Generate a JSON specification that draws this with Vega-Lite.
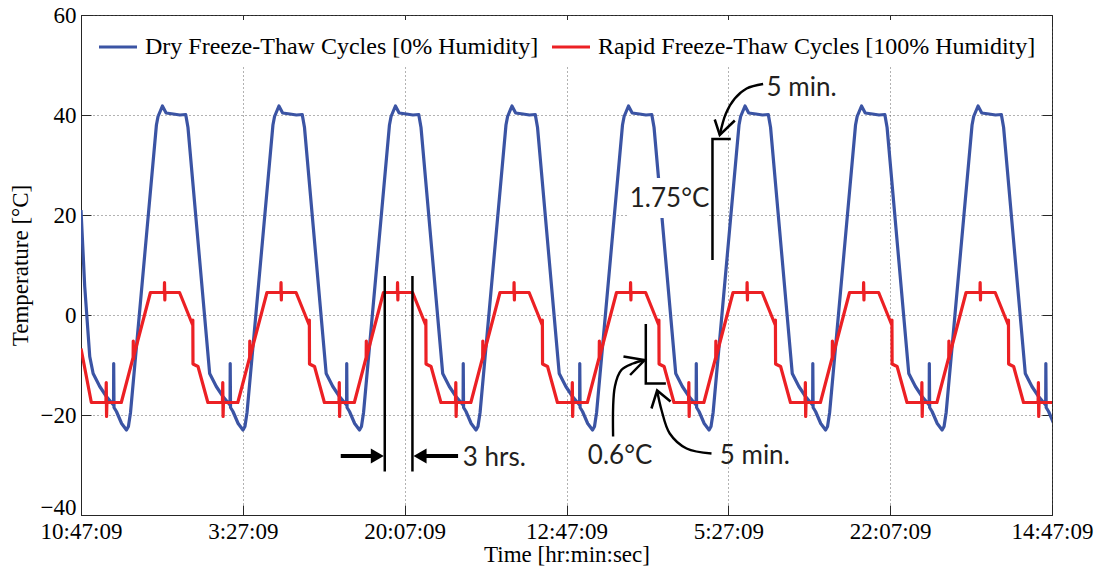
{
"$schema": "https://vega.github.io/schema/vega-lite/v6.json",
"width": 971, "height": 500,
"autosize": {"type": "none"},
"padding": {"left": 81, "top": 15, "right": 47, "bottom": 54},
"background": "white",
"config": {
  "view": {"stroke": "#262626", "strokeWidth": 1},
  "font": "Liberation Serif",
  "axis": {"domainColor": "#262626", "tickColor": "#262626", "labelColor": "#000", "titleColor": "#000", "labelFont": "Liberation Serif", "titleFont": "Liberation Serif", "labelFontSize": 23, "titleFontSize": 23, "titleFontWeight": "normal", "gridColor": "#555", "gridDash": [1, 3], "gridOpacity": 0.9, "gridWidth": 1, "tickSize": -10, "labelFlush": false, "labelOverlap": false}
},
"resolve": {"axis": {"x": "independent", "y": "independent"}},
"layer": [
{
 "data": {"values": [
{"s":"d","t":0,"T":21},{"s":"d","t":23,"T":5.7},{"s":"d","t":54,"T":-8.3},{"s":"d","t":75,"T":-11.7},{"s":"d","t":116,"T":-14.3},{"s":"d","t":157,"T":-16.3},{"s":"d","t":201,"T":-18},{"s":"d","t":202,"T":-9.7},{"s":"d","t":204,"T":-18.5},{"s":"d","t":219,"T":-19.3},{"s":"d","t":251,"T":-21.7},
{"s":"d","t":281,"T":-23},{"s":"d","t":293,"T":-22.3},{"s":"d","t":306,"T":-19.5},{"s":"d","t":466,"T":38},{"s":"d","t":476,"T":39.7},{"s":"d","t":503,"T":41.8},{"s":"d","t":526,"T":40.4},{"s":"d","t":571,"T":40.2},{"s":"d","t":611,"T":40},{"s":"d","t":647,"T":40.1},{"s":"d","t":661,"T":37.5},{"s":"d","t":795,"T":-11.7},{"s":"d","t":836,"T":-14.3},{"s":"d","t":877,"T":-16.3},{"s":"d","t":921,"T":-18},{"s":"d","t":922,"T":-9.7},{"s":"d","t":924,"T":-18.5},{"s":"d","t":939,"T":-19.3},{"s":"d","t":971,"T":-21.7},
{"s":"d","t":1001,"T":-23},{"s":"d","t":1013,"T":-22.3},{"s":"d","t":1026,"T":-19.5},{"s":"d","t":1186,"T":38},{"s":"d","t":1196,"T":39.7},{"s":"d","t":1223,"T":41.8},{"s":"d","t":1246,"T":40.4},{"s":"d","t":1291,"T":40.2},{"s":"d","t":1331,"T":40},{"s":"d","t":1367,"T":40.1},{"s":"d","t":1381,"T":37.5},{"s":"d","t":1515,"T":-11.7},{"s":"d","t":1556,"T":-14.3},{"s":"d","t":1597,"T":-16.3},{"s":"d","t":1641,"T":-18},{"s":"d","t":1642,"T":-9.7},{"s":"d","t":1644,"T":-18.5},{"s":"d","t":1659,"T":-19.3},{"s":"d","t":1691,"T":-21.7},
{"s":"d","t":1721,"T":-23},{"s":"d","t":1733,"T":-22.3},{"s":"d","t":1746,"T":-19.5},{"s":"d","t":1906,"T":38},{"s":"d","t":1916,"T":39.7},{"s":"d","t":1943,"T":41.8},{"s":"d","t":1966,"T":40.4},{"s":"d","t":2011,"T":40.2},{"s":"d","t":2051,"T":40},{"s":"d","t":2087,"T":40.1},{"s":"d","t":2101,"T":37.5},{"s":"d","t":2235,"T":-11.7},{"s":"d","t":2276,"T":-14.3},{"s":"d","t":2317,"T":-16.3},{"s":"d","t":2361,"T":-18},{"s":"d","t":2362,"T":-9.7},{"s":"d","t":2364,"T":-18.5},{"s":"d","t":2379,"T":-19.3},{"s":"d","t":2411,"T":-21.7},
{"s":"d","t":2441,"T":-23},{"s":"d","t":2453,"T":-22.3},{"s":"d","t":2466,"T":-19.5},{"s":"d","t":2626,"T":38},{"s":"d","t":2636,"T":39.7},{"s":"d","t":2663,"T":41.8},{"s":"d","t":2686,"T":40.4},{"s":"d","t":2731,"T":40.2},{"s":"d","t":2771,"T":40},{"s":"d","t":2807,"T":40.1},{"s":"d","t":2821,"T":37.5},{"s":"d","t":2955,"T":-11.7},{"s":"d","t":2996,"T":-14.3},{"s":"d","t":3037,"T":-16.3},{"s":"d","t":3081,"T":-18},{"s":"d","t":3082,"T":-9.7},{"s":"d","t":3084,"T":-18.5},{"s":"d","t":3099,"T":-19.3},{"s":"d","t":3131,"T":-21.7},
{"s":"d","t":3161,"T":-23},{"s":"d","t":3173,"T":-22.3},{"s":"d","t":3186,"T":-19.5},{"s":"d","t":3346,"T":38},{"s":"d","t":3356,"T":39.7},{"s":"d","t":3383,"T":41.8},{"s":"d","t":3406,"T":40.4},{"s":"d","t":3451,"T":40.2},{"s":"d","t":3491,"T":40},{"s":"d","t":3527,"T":40.1},{"s":"d","t":3541,"T":37.5},{"s":"d","t":3675,"T":-11.7},{"s":"d","t":3716,"T":-14.3},{"s":"d","t":3757,"T":-16.3},{"s":"d","t":3801,"T":-18},{"s":"d","t":3802,"T":-9.7},{"s":"d","t":3804,"T":-18.5},{"s":"d","t":3819,"T":-19.3},{"s":"d","t":3851,"T":-21.7},
{"s":"d","t":3881,"T":-23},{"s":"d","t":3893,"T":-22.3},{"s":"d","t":3906,"T":-19.5},{"s":"d","t":4066,"T":38},{"s":"d","t":4076,"T":39.7},{"s":"d","t":4103,"T":41.8},{"s":"d","t":4126,"T":40.4},{"s":"d","t":4171,"T":40.2},{"s":"d","t":4211,"T":40},{"s":"d","t":4247,"T":40.1},{"s":"d","t":4261,"T":37.5},{"s":"d","t":4395,"T":-11.7},{"s":"d","t":4436,"T":-14.3},{"s":"d","t":4477,"T":-16.3},{"s":"d","t":4521,"T":-18},{"s":"d","t":4522,"T":-9.7},{"s":"d","t":4524,"T":-18.5},{"s":"d","t":4539,"T":-19.3},{"s":"d","t":4571,"T":-21.7},
{"s":"d","t":4601,"T":-23},{"s":"d","t":4613,"T":-22.3},{"s":"d","t":4626,"T":-19.5},{"s":"d","t":4786,"T":38},{"s":"d","t":4796,"T":39.7},{"s":"d","t":4823,"T":41.8},{"s":"d","t":4846,"T":40.4},{"s":"d","t":4891,"T":40.2},{"s":"d","t":4931,"T":40},{"s":"d","t":4967,"T":40.1},{"s":"d","t":4981,"T":37.5},{"s":"d","t":5115,"T":-11.7},{"s":"d","t":5156,"T":-14.3},{"s":"d","t":5197,"T":-16.3},{"s":"d","t":5241,"T":-18},{"s":"d","t":5242,"T":-9.7},{"s":"d","t":5244,"T":-18.5},{"s":"d","t":5259,"T":-19.3},{"s":"d","t":5291,"T":-21.7},
{"s":"d","t":5321,"T":-23},{"s":"d","t":5333,"T":-22.3},{"s":"d","t":5346,"T":-19.5},{"s":"d","t":5506,"T":38},{"s":"d","t":5516,"T":39.7},{"s":"d","t":5543,"T":41.8},{"s":"d","t":5566,"T":40.4},{"s":"d","t":5611,"T":40.2},{"s":"d","t":5651,"T":40},{"s":"d","t":5687,"T":40.1},{"s":"d","t":5701,"T":37.5},{"s":"d","t":5835,"T":-11.7},{"s":"d","t":5876,"T":-14.3},{"s":"d","t":5917,"T":-16.3},{"s":"d","t":5961,"T":-18},{"s":"d","t":5962,"T":-9.7},{"s":"d","t":5964,"T":-18.5},{"s":"d","t":5979,"T":-19.3},{"s":"d","t":6011,"T":-21.7},
{"s":"r","t":0,"T":-6.7},
{"s":"r","t":64,"T":-17.5},{"s":"r","t":154,"T":-17.5},{"s":"r","t":156,"T":-13.5},{"s":"r","t":158,"T":-20.3},{"s":"r","t":160,"T":-17.5},{"s":"r","t":249,"T":-17.5},{"s":"r","t":322,"T":-8.5},{"s":"r","t":323,"T":-5.2},{"s":"r","t":325,"T":-8.8},{"s":"r","t":326,"T":-8.2},{"s":"r","t":429,"T":4.5},{"s":"r","t":515,"T":4.5},{"s":"r","t":516,"T":6.5},{"s":"r","t":518,"T":3},{"s":"r","t":519,"T":4.5},{"s":"r","t":609,"T":4.5},{"s":"r","t":690,"T":-2},{"s":"r","t":691,"T":-1},{"s":"r","t":692,"T":-9.8},{"s":"r","t":723,"T":-10.3},
{"s":"r","t":784,"T":-17.5},{"s":"r","t":874,"T":-17.5},{"s":"r","t":876,"T":-13.5},{"s":"r","t":878,"T":-20.3},{"s":"r","t":880,"T":-17.5},{"s":"r","t":969,"T":-17.5},{"s":"r","t":1042,"T":-8.5},{"s":"r","t":1043,"T":-5.2},{"s":"r","t":1045,"T":-8.8},{"s":"r","t":1046,"T":-8.2},{"s":"r","t":1149,"T":4.5},{"s":"r","t":1235,"T":4.5},{"s":"r","t":1236,"T":6.5},{"s":"r","t":1238,"T":3},{"s":"r","t":1239,"T":4.5},{"s":"r","t":1329,"T":4.5},{"s":"r","t":1410,"T":-2},{"s":"r","t":1411,"T":-1},{"s":"r","t":1412,"T":-9.8},{"s":"r","t":1443,"T":-10.3},
{"s":"r","t":1504,"T":-17.5},{"s":"r","t":1594,"T":-17.5},{"s":"r","t":1596,"T":-13.5},{"s":"r","t":1598,"T":-20.3},{"s":"r","t":1600,"T":-17.5},{"s":"r","t":1689,"T":-17.5},{"s":"r","t":1762,"T":-8.5},{"s":"r","t":1763,"T":-5.2},{"s":"r","t":1765,"T":-8.8},{"s":"r","t":1766,"T":-8.2},{"s":"r","t":1869,"T":4.5},{"s":"r","t":1955,"T":4.5},{"s":"r","t":1956,"T":6.5},{"s":"r","t":1958,"T":3},{"s":"r","t":1959,"T":4.5},{"s":"r","t":2049,"T":4.5},{"s":"r","t":2130,"T":-2},{"s":"r","t":2131,"T":-1},{"s":"r","t":2132,"T":-9.8},{"s":"r","t":2163,"T":-10.3},
{"s":"r","t":2224,"T":-17.5},{"s":"r","t":2314,"T":-17.5},{"s":"r","t":2316,"T":-13.5},{"s":"r","t":2318,"T":-20.3},{"s":"r","t":2320,"T":-17.5},{"s":"r","t":2409,"T":-17.5},{"s":"r","t":2482,"T":-8.5},{"s":"r","t":2483,"T":-5.2},{"s":"r","t":2485,"T":-8.8},{"s":"r","t":2486,"T":-8.2},{"s":"r","t":2589,"T":4.5},{"s":"r","t":2675,"T":4.5},{"s":"r","t":2676,"T":6.5},{"s":"r","t":2678,"T":3},{"s":"r","t":2679,"T":4.5},{"s":"r","t":2769,"T":4.5},{"s":"r","t":2850,"T":-2},{"s":"r","t":2851,"T":-1},{"s":"r","t":2852,"T":-9.8},{"s":"r","t":2883,"T":-10.3},
{"s":"r","t":2944,"T":-17.5},{"s":"r","t":3034,"T":-17.5},{"s":"r","t":3036,"T":-13.5},{"s":"r","t":3038,"T":-20.3},{"s":"r","t":3040,"T":-17.5},{"s":"r","t":3129,"T":-17.5},{"s":"r","t":3202,"T":-8.5},{"s":"r","t":3203,"T":-5.2},{"s":"r","t":3205,"T":-8.8},{"s":"r","t":3206,"T":-8.2},{"s":"r","t":3309,"T":4.5},{"s":"r","t":3395,"T":4.5},{"s":"r","t":3396,"T":6.5},{"s":"r","t":3398,"T":3},{"s":"r","t":3399,"T":4.5},{"s":"r","t":3489,"T":4.5},{"s":"r","t":3570,"T":-2},{"s":"r","t":3571,"T":-1},{"s":"r","t":3572,"T":-9.8},{"s":"r","t":3603,"T":-10.3},
{"s":"r","t":3664,"T":-17.5},{"s":"r","t":3754,"T":-17.5},{"s":"r","t":3756,"T":-13.5},{"s":"r","t":3758,"T":-20.3},{"s":"r","t":3760,"T":-17.5},{"s":"r","t":3849,"T":-17.5},{"s":"r","t":3922,"T":-8.5},{"s":"r","t":3923,"T":-5.2},{"s":"r","t":3925,"T":-8.8},{"s":"r","t":3926,"T":-8.2},{"s":"r","t":4029,"T":4.5},{"s":"r","t":4115,"T":4.5},{"s":"r","t":4116,"T":6.5},{"s":"r","t":4118,"T":3},{"s":"r","t":4119,"T":4.5},{"s":"r","t":4209,"T":4.5},{"s":"r","t":4290,"T":-2},{"s":"r","t":4291,"T":-1},{"s":"r","t":4292,"T":-9.8},{"s":"r","t":4323,"T":-10.3},
{"s":"r","t":4384,"T":-17.5},{"s":"r","t":4474,"T":-17.5},{"s":"r","t":4476,"T":-13.5},{"s":"r","t":4478,"T":-20.3},{"s":"r","t":4480,"T":-17.5},{"s":"r","t":4569,"T":-17.5},{"s":"r","t":4642,"T":-8.5},{"s":"r","t":4643,"T":-5.2},{"s":"r","t":4645,"T":-8.8},{"s":"r","t":4646,"T":-8.2},{"s":"r","t":4749,"T":4.5},{"s":"r","t":4835,"T":4.5},{"s":"r","t":4836,"T":6.5},{"s":"r","t":4838,"T":3},{"s":"r","t":4839,"T":4.5},{"s":"r","t":4929,"T":4.5},{"s":"r","t":5010,"T":-2},{"s":"r","t":5011,"T":-1},{"s":"r","t":5012,"T":-9.8},{"s":"r","t":5043,"T":-10.3},
{"s":"r","t":5104,"T":-17.5},{"s":"r","t":5194,"T":-17.5},{"s":"r","t":5196,"T":-13.5},{"s":"r","t":5198,"T":-20.3},{"s":"r","t":5200,"T":-17.5},{"s":"r","t":5289,"T":-17.5},{"s":"r","t":5362,"T":-8.5},{"s":"r","t":5363,"T":-5.2},{"s":"r","t":5365,"T":-8.8},{"s":"r","t":5366,"T":-8.2},{"s":"r","t":5469,"T":4.5},{"s":"r","t":5555,"T":4.5},{"s":"r","t":5556,"T":6.5},{"s":"r","t":5558,"T":3},{"s":"r","t":5559,"T":4.5},{"s":"r","t":5649,"T":4.5},{"s":"r","t":5730,"T":-2},{"s":"r","t":5731,"T":-1},{"s":"r","t":5732,"T":-9.8},{"s":"r","t":5763,"T":-10.3},
{"s":"r","t":5824,"T":-17.5},{"s":"r","t":5914,"T":-17.5},{"s":"r","t":5916,"T":-13.5},{"s":"r","t":5918,"T":-20.3},{"s":"r","t":5920,"T":-17.5},{"s":"r","t":6010,"T":-17.5}
 ]},
 "mark": {"type": "line", "strokeWidth": 3.2, "clip": true, "strokeJoin": "round"},
 "encoding": {
   "x": {"field": "t", "type": "quantitative", "scale": {"domain": [0, 6000], "nice": false, "zero": false},
     "axis": {"values": [0, 1000, 2000, 3000, 4000, 5000, 6000], "labelExpr": "['10:47:09','3:27:09','20:07:09','12:47:09','5:27:09','22:07:09','14:47:09'][round(datum.value/1000)]", "title": "Time [hr:min:sec]", "labelPadding": 15, "titlePadding": 0, "grid": true}},
   "y": {"field": "T", "type": "quantitative", "scale": {"domain": [-40, 60], "nice": false, "zero": false},
     "axis": {"values": [-40, -20, 0, 20, 40, 60], "title": "Temperature [°C]", "grid": true, "labelPadding": 15, "titlePadding": 8,
       "labelOffset": {"condition": {"test": "datum.value == -40", "value": -8}, "value": 0}}},
   "color": {"field": "s", "type": "nominal", "scale": {"domain": ["d", "r"], "range": ["#3B54A4", "#EC2024"]},
     "legend": {"orient": "none", "legendX": 10, "legendY": 5, "direction": "horizontal", "title": null,
       "labelExpr": "datum.label == 'd' ? 'Dry Freeze-Thaw Cycles [0% Humidity]' : 'Rapid Freeze-Thaw Cycles [100% Humidity]'",
       "labelFont": "Liberation Serif", "labelFontSize": 24, "labelColor": "#000", "labelLimit": 800,
       "symbolType": "stroke", "symbolStrokeWidth": 3.2, "symbolSize": 1444, "fillColor": "white", "padding": 6, "columnPadding": 6, "labelOffset": 6}}
 }
},
{
 "data": {"values": [{"t1": 3379, "t2": 3880, "T1": 19.4, "T2": 27.4}]},
 "mark": {"type": "rect", "color": "white"},
 "encoding": {
   "x": {"field": "t1", "type": "quantitative", "scale": {"domain": [0, 6000], "nice": false, "zero": false},
     "axis": {"orient": "top", "labels": false, "title": null, "grid": false, "domain": false, "values": [0, 1000, 2000, 3000, 4000, 5000, 6000]}},
   "x2": {"field": "t2"},
   "y": {"field": "T1", "type": "quantitative", "scale": {"domain": [-40, 60], "nice": false, "zero": false},
     "axis": {"orient": "right", "labels": false, "title": null, "grid": false, "domain": false, "values": [-40, -20, 0, 20, 40, 60]}},
   "y2": {"field": "T2"}
 }
},
{
 "data": {"values": [
  {"g":"b1","o":0,"t":4015,"T":35.2},{"g":"b1","o":1,"t":3902,"T":35.2},{"g":"b1","o":2,"t":3902,"T":11},
  {"g":"b2","o":0,"t":3490,"T":-1.8},{"g":"b2","o":1,"t":3490,"T":-13.7},{"g":"b2","o":2,"t":3614,"T":-13.7},
  {"g":"v1","o":0,"t":1877,"T":7.8},{"g":"v1","o":1,"t":1877,"T":-31.3},
  {"g":"v2","o":0,"t":2048,"T":7.8},{"g":"v2","o":1,"t":2048,"T":-31.3},
  {"g":"h1","o":0,"t":3916,"T":39.1},{"g":"h1","o":1,"t":3947,"T":36},{"g":"h1","o":2,"t":4040,"T":38.9},
  {"g":"h2","o":0,"t":3352,"T":-8.3},{"g":"h2","o":1,"t":3483,"T":-9},{"g":"h2","o":2,"t":3393,"T":-12},
  {"g":"h3","o":0,"t":3525,"T":-18.7},{"g":"h3","o":1,"t":3560,"T":-15.1},{"g":"h3","o":2,"t":3643,"T":-17.3}
 ]},
 "mark": {"type": "line", "color": "black", "strokeWidth": 2.5},
 "encoding": {
   "x": {"field": "t", "type": "quantitative", "scale": {"domain": [0, 6000], "nice": false, "zero": false}, "axis": null},
   "y": {"field": "T", "type": "quantitative", "scale": {"domain": [-40, 60], "nice": false, "zero": false}, "axis": null},
   "detail": {"field": "g"},
   "order": {"field": "o"}
 }
},
{
 "data": {"values": [
  {"g":"c1","o":0,"t":4215,"T":46.2},{"g":"c1","o":1,"t":4113,"T":45.3},{"g":"c1","o":2,"t":4040,"T":43.3},{"g":"c1","o":3,"t":3985,"T":40.3},{"g":"c1","o":4,"t":3947,"T":36},
  {"g":"c2","o":0,"t":3288,"T":-24.3},{"g":"c2","o":1,"t":3299,"T":-14.3},{"g":"c2","o":2,"t":3339,"T":-11},{"g":"c2","o":3,"t":3411,"T":-9.7},{"g":"c2","o":4,"t":3483,"T":-9},
  {"g":"c3","o":0,"t":3896,"T":-27.7},{"g":"c3","o":1,"t":3742,"T":-26.7},{"g":"c3","o":2,"t":3638,"T":-23.7},{"g":"c3","o":3,"t":3587,"T":-19},{"g":"c3","o":4,"t":3560,"T":-15.1}
 ]},
 "mark": {"type": "line", "color": "black", "strokeWidth": 2.4, "interpolate": "catmull-rom"},
 "encoding": {
   "x": {"field": "t", "type": "quantitative", "scale": {"domain": [0, 6000], "nice": false, "zero": false}, "axis": null},
   "y": {"field": "T", "type": "quantitative", "scale": {"domain": [-40, 60], "nice": false, "zero": false}, "axis": null},
   "detail": {"field": "g"},
   "order": {"field": "o"}
 }
},
{
 "data": {"values": [{"t1": 1605, "t2": 1832, "T": -28.2}, {"t1": 2330, "t2": 2095, "T": -28.2}]},
 "mark": {"type": "rule", "color": "black", "strokeWidth": 4},
 "encoding": {
   "x": {"field": "t1", "type": "quantitative", "scale": {"domain": [0, 6000], "nice": false, "zero": false}, "axis": null},
   "x2": {"field": "t2"},
   "y": {"field": "T", "type": "quantitative", "scale": {"domain": [-40, 60], "nice": false, "zero": false}, "axis": null}
 }
},
{
 "data": {"values": [{"t": 1831, "T": -28.2, "shape": "triangle-right"}, {"t": 2095, "T": -28.2, "shape": "triangle-left"}]},
 "mark": {"type": "point", "filled": true, "color": "black", "size": 225, "opacity": 1},
 "encoding": {
   "x": {"field": "t", "type": "quantitative", "scale": {"domain": [0, 6000], "nice": false, "zero": false}, "axis": null},
   "y": {"field": "T", "type": "quantitative", "scale": {"domain": [-40, 60], "nice": false, "zero": false}, "axis": null},
   "shape": {"field": "shape", "type": "nominal", "scale": null, "legend": null}
 }
},
{
 "data": {"values": [
  {"t": 2359, "T": -28.6, "label": "3 hrs."},
  {"t": 4236, "T": 45.5, "label": "5 min."},
  {"t": 3391, "T": 23.2, "label": "1.75°C"},
  {"t": 3132, "T": -28.2, "label": "0.6°C"},
  {"t": 3947, "T": -28.2, "label": "5 min."}
 ]},
 "mark": {"type": "text", "font": "Lato", "fontSize": 26, "align": "left", "baseline": "middle", "color": "#231F20"},
 "encoding": {
   "x": {"field": "t", "type": "quantitative", "scale": {"domain": [0, 6000], "nice": false, "zero": false}, "axis": null},
   "y": {"field": "T", "type": "quantitative", "scale": {"domain": [-40, 60], "nice": false, "zero": false}, "axis": null},
   "text": {"field": "label"}
 }
}
]
}
